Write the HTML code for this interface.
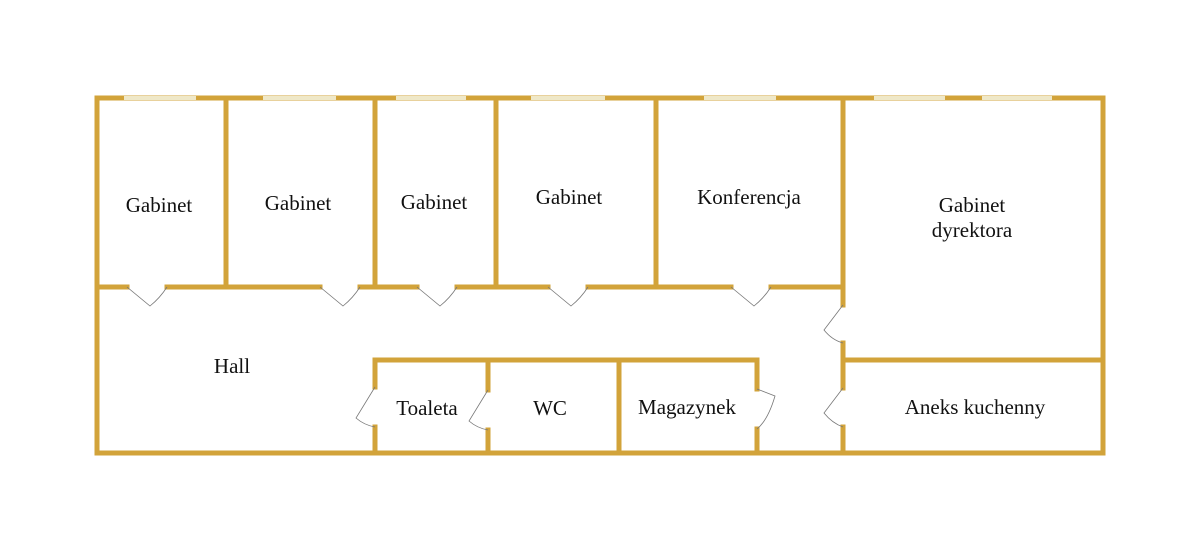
<!DOCTYPE html>
<html><head><style>body{margin:0;background:#fff}svg{display:block}text{font-family:"Liberation Serif",serif;font-size:21px;fill:#111;text-anchor:middle}</style></head><body>
<svg width="1200" height="551" viewBox="0 0 1200 551">
<g stroke="#d2a33a" stroke-width="5" fill="none" stroke-linecap="square">
<line x1="97" y1="98" x2="1103" y2="98"/>
<line x1="97" y1="98" x2="97" y2="453"/>
<line x1="1103" y1="98" x2="1103" y2="453"/>
<line x1="97" y1="453" x2="1103" y2="453"/>
<line x1="226" y1="98" x2="226" y2="287"/>
<line x1="375" y1="98" x2="375" y2="287"/>
<line x1="496" y1="98" x2="496" y2="287"/>
<line x1="656" y1="98" x2="656" y2="287"/>
<line x1="97" y1="287" x2="127" y2="287"/>
<line x1="167" y1="287" x2="320" y2="287"/>
<line x1="360" y1="287" x2="417" y2="287"/>
<line x1="457" y1="287" x2="548" y2="287"/>
<line x1="588" y1="287" x2="731" y2="287"/>
<line x1="771" y1="287" x2="843" y2="287"/>
<line x1="843" y1="98" x2="843" y2="305"/>
<line x1="843" y1="343" x2="843" y2="388"/>
<line x1="843" y1="427" x2="843" y2="453"/>
<line x1="843" y1="360" x2="1103" y2="360"/>
<line x1="375" y1="360" x2="757" y2="360"/>
<line x1="375" y1="360" x2="375" y2="387"/>
<line x1="375" y1="427" x2="375" y2="453"/>
<line x1="488" y1="360" x2="488" y2="390"/>
<line x1="488" y1="430" x2="488" y2="453"/>
<line x1="619" y1="360" x2="619" y2="453"/>
<line x1="757" y1="360" x2="757" y2="389"/>
<line x1="757" y1="429" x2="757" y2="453"/>
</g>
<g stroke="#efe8c8" stroke-width="4">
<line x1="124" y1="98" x2="196" y2="98"/>
<line x1="263" y1="98" x2="336" y2="98"/>
<line x1="396" y1="98" x2="466" y2="98"/>
<line x1="531" y1="98" x2="605" y2="98"/>
<line x1="704" y1="98" x2="776" y2="98"/>
<line x1="874" y1="98" x2="945" y2="98"/>
<line x1="982" y1="98" x2="1052" y2="98"/>
</g>
<g stroke="#777" stroke-width="0.8" fill="none">
<path d="M127 287 L150 306 Q160 298 167 287"/>
<path d="M320 287 L343 306 Q353 298 360 287"/>
<path d="M417 287 L440 306 Q450 298 457 287"/>
<path d="M548 287 L571 306 Q581 298 588 287"/>
<path d="M731 287 L754 306 Q764 298 771 287"/>
<path d="M843 305 L824 330 Q832 340 843 343"/>
<path d="M843 388 L824 413 Q832 423 843 427"/>
<path d="M375 387 L356 418 Q364 425 375 427"/>
<path d="M488 390 L469 421 Q477 428 488 430"/>
<path d="M757 389 L775 396 Q768 420 757 429"/>
</g>
<text x="159" y="212">Gabinet</text>
<text x="298" y="210">Gabinet</text>
<text x="434" y="209">Gabinet</text>
<text x="569" y="204">Gabinet</text>
<text x="749" y="204">Konferencja</text>
<text x="972" y="212">Gabinet</text>
<text x="972" y="237">dyrektora</text>
<text x="232" y="373">Hall</text>
<text x="427" y="415">Toaleta</text>
<text x="550" y="415">WC</text>
<text x="687" y="414">Magazynek</text>
<text x="975" y="414">Aneks kuchenny</text>
</svg>
</body></html>
